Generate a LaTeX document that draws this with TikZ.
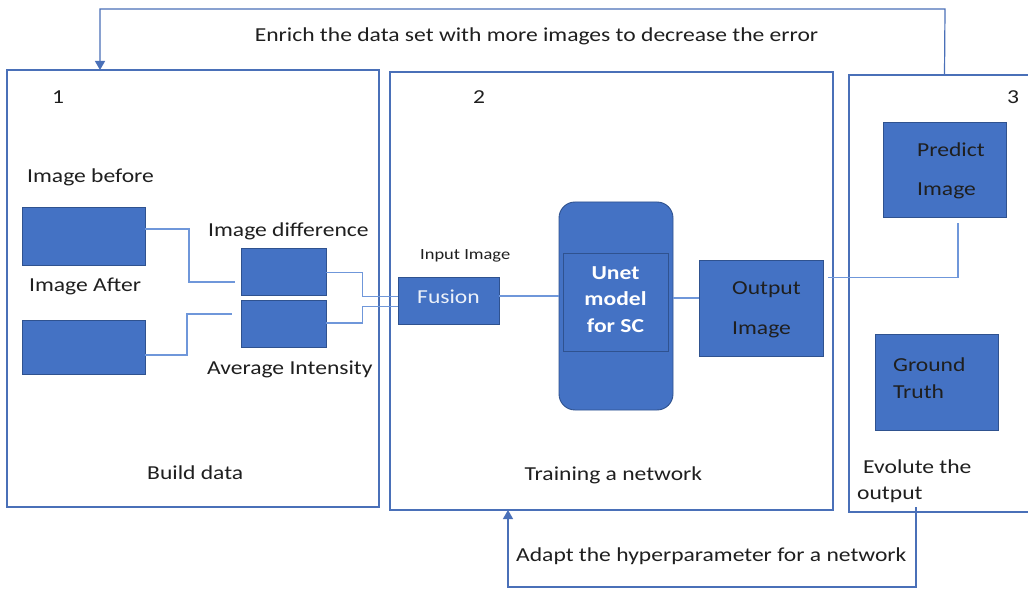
\documentclass[tikz,border=0pt]{standalone}
\usepackage{fontspec}
\setmainfont{Carlito}[FakeStretch=1.19]
\usetikzlibrary{arrows.meta}
\definecolor{fillb}{HTML}{4472C4}
\definecolor{edgeb}{HTML}{2F528F}
\definecolor{frameb}{HTML}{4A70B8}
\definecolor{connb}{HTML}{6F97DA}
\definecolor{txt}{HTML}{1F1F1F}
\tikzset{
  frame/.style={draw=frameb,line width=1.2pt,inner sep=0pt,outer sep=0pt},
  blk/.style={draw=edgeb,fill=fillb,line width=0.9pt,inner sep=0pt,outer sep=0pt},
  conn/.style={draw=connb,line width=1.1pt},
  fb/.style={draw=frameb,line width=1.2pt,-{Triangle[width=10pt,length=9pt]}},
  lbl/.style={inner sep=0pt,font=\fontsize{19.8}{22}\selectfont,text=txt},
  smalllbl/.style={inner sep=0pt,font=\fontsize{15.5}{18}\selectfont,text=txt},
  wlbl/.style={inner sep=0pt,font=\fontsize{19.8}{22}\selectfont\bfseries,text=white},
}
\begin{document}
\begin{tikzpicture}[x=1pt,y=-1pt]
\useasboundingbox[fill=white] (0,0) rectangle (1028,593);
% frames
\node[frame,minimum width=372pt,minimum height=437pt] (b1) at (193,288.5) {};
\node[frame,minimum width=443pt,minimum height=438pt] (b2) at (611.5,291) {};
\node[frame,minimum width=191pt,minimum height=437pt] (b3) at (944.5,293.5) {};
% blocks
\node[blk,minimum width=123pt,minimum height=58pt] (before) at (83.5,236) {};
\node[blk,minimum width=123pt,minimum height=54pt] (after) at (83.5,347) {};
\node[blk,minimum width=85pt,minimum height=47pt] (diff) at (283.5,271.5) {};
\node[blk,minimum width=85pt,minimum height=47pt] (avg) at (283.5,323.5) {};
\node[blk,minimum width=101pt,minimum height=47pt] (fusion) at (448.5,300.5) {};
\node[blk,rounded corners=16pt,minimum width=114pt,minimum height=208pt] (unet) at (616,306) {};
\node[draw=edgeb,line width=0.9pt,inner sep=0pt,minimum width=105pt,minimum height=98pt] (unetin) at (615.5,302) {};
\node[blk,minimum width=124pt,minimum height=96pt] (output) at (761,308) {};
\node[blk,minimum width=123pt,minimum height=95pt] (predict) at (944.5,169.5) {};
\node[blk,minimum width=123pt,minimum height=96pt] (ground) at (936.5,382) {};
% texts
\node[lbl,anchor=base] (tenrich) at (536.5,42) {Enrich the data set with more images to decrease the error};
\node[lbl,anchor=base] (n1) at (58,104) {1};
\node[lbl,anchor=base] (n2) at (479,104) {2};
\node[lbl,anchor=base] (n3) at (1013,104) {3};
\node[lbl,anchor=base west] (tbefore) at (27,183) {Image before};
\node[lbl,anchor=base west] (tafter) at (29,292) {Image After};
\node[lbl,anchor=base west] (tdiff) at (208,237) {Image difference};
\node[lbl,anchor=base west] (tavg) at (207,374) {Average Intensity};
\node[lbl,anchor=base west] (tbuild) at (147,479) {Build data};
\node[smalllbl,anchor=base west] (tinput) at (420,259.5) {Input Image};
\node[lbl,anchor=base west,text=white!90!fillb] (tfusion) at (417,303.5) {Fusion};
\node[wlbl,anchor=base] (tu1) at (615.5,279.5) {Unet};
\node[wlbl,anchor=base] (tu2) at (615.5,305.5) {model};
\node[wlbl,anchor=base] (tu3) at (615.5,332.5) {for SC};
\node[lbl,anchor=base west] (to1) at (732,294.5) {Output};
\node[lbl,anchor=base west] (to2) at (732,335) {Image};
\node[lbl,anchor=base west] (tp1) at (917,157) {Predict};
\node[lbl,anchor=base west] (tp2) at (917,196) {Image};
\node[lbl,anchor=base west] (tg1) at (893,372) {Ground};
\node[lbl,anchor=base west] (tg2) at (893,399) {Truth};
\node[lbl,anchor=base west] (ttrain) at (524.5,480) {Training a network};
\node[lbl,anchor=base west] (tev1) at (863,473) {Evolute the};
\node[lbl,anchor=base west] (tev2) at (857,499.5) {output};
\node[lbl,anchor=base west] (tadapt) at (516,561) {Adapt the hyperparameter for a network};
% connector end points
\coordinate (din) at (235,282);
\coordinate (ain) at (232,314);
\coordinate (oout) at (828,277.5);
\coordinate (pin) at (958,223);
\coordinate (in1) at (100,70);
\coordinate (out3) at (916,507);
\coordinate (in2) at (508,510);
% connectors
\draw[conn] (before.east |- 0,229) -- (189,229) |- (din);
\draw[conn] (after.east |- 0,355) -- (187,355) |- (ain);
\draw[conn] (diff.east |- 0,272.5) -- (362.5,272.5) |- (fusion.west |- 0,296.5);
\draw[conn] (avg.east |- 0,323) -- (362.5,323) |- (fusion.west |- 0,306.5);
\draw[conn] (fusion.east |- 0,296) -- (unet.west |- 0,296);
\draw[conn] (unet.east |- 0,298) -- (output.west |- 0,298);
\draw[conn] (oout) -| (pin);
\draw[fb] (b3.north) -- (945,9) -| (in1);
\draw[fb] (out3) -- (916,587) -| (in2);
\end{tikzpicture}
\end{document}
